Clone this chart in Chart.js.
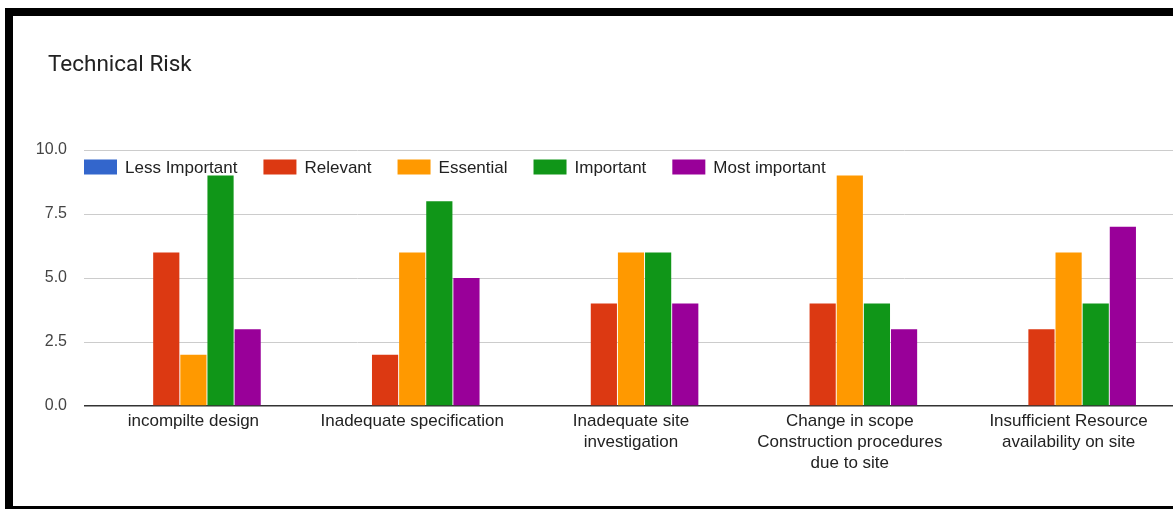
<!DOCTYPE html>
<html>
<head>
<meta charset="utf-8">
<script src="https://cdn.jsdelivr.net/npm/chart.js@4.4.1/dist/chart.umd.min.js"></script>
<style>
  html, body { margin: 0; padding: 0; background: #fff; width: 1173px; height: 510px; overflow: hidden; }
  #frame {
    position: absolute; left: 5px; top: 8px; width: 1300px; height: 490px;
    border-top: 8px solid #000; border-left: 8px solid #000; border-bottom: 3px solid #000;
    background: #fff;
  }
  #wrap { position: absolute; left: 0; top: 0; width: 1200px; height: 510px; z-index: 2; }
</style>
</head>
<body>
<div id="frame"></div>
<div id="wrap"><canvas id="chart" width="1200" height="510"></canvas></div>
<script>
// Survey responses per technical risk factor
const chartTitle = 'Technical Risk';
const categories = [
  'incompilte design',
  'Inadequate specification',
  ['Inadequate site', 'investigation'],
  ['Change in scope', 'Construction procedures', 'due to site'],
  ['Insufficient Resource', 'availability on site']
];
const seriesNames = ['Less Important', 'Relevant', 'Essential', 'Important', 'Most important'];
const lessImportant = [0, 0, 0, 0, 0];
const relevant      = [6, 2, 4, 4, 3];
const essential     = [2, 6, 6, 9, 6];
const important     = [9, 8, 6, 4, 4];
const mostImportant = [3, 5, 4, 3, 7];
const yTickValues   = [0, 2.5, 5, 7.5, 10];

const seriesColors = ['#3366cc', '#dc3912', '#ff9900', '#109618', '#990099'];
const seriesValues = [lessImportant, relevant, essential, important, mostImportant];

const LABEL_FONT = '"Liberation Sans", Arial, sans-serif';

// Title and in-plot legend drawn on top of the chart
const overlayPlugin = {
  id: 'overlay',
  afterDraw(chart) {
    const ctx = chart.ctx;
    const area = chart.chartArea;
    ctx.save();
    ctx.fillStyle = '#222';
    ctx.font = '22.5px Roboto, "Liberation Sans", sans-serif';
    ctx.textBaseline = 'alphabetic';
    ctx.textAlign = 'left';
    ctx.fillText(chartTitle, 48, 71);

    ctx.textBaseline = 'middle';
    ctx.font = '17px ' + LABEL_FONT;
    let x = area.left;
    const cy = area.top + 17;
    chart.data.datasets.forEach(ds => {
      ctx.fillStyle = ds.backgroundColor;
      ctx.fillRect(x, cy - 7.5, 33, 15);
      x += 33 + 8;
      ctx.fillStyle = '#222';
      ctx.fillText(ds.label, x, cy + 1);
      x += ctx.measureText(ds.label).width + 26;
    });
    ctx.restore();
  }
};

new Chart(document.getElementById('chart'), {
  type: 'bar',
  data: {
    labels: categories,
    datasets: seriesNames.map((name, i) => ({
      label: name,
      data: seriesValues[i],
      backgroundColor: seriesColors[i],
      borderWidth: 0,
      barPercentage: 0.965,
      categoryPercentage: 0.62
    }))
  },
  options: {
    responsive: false,
    animation: false,
    layout: { padding: { top: 150, right: 22, bottom: 0, left: 0 } },
    plugins: {
      legend: { display: false },
      title: { display: false },
      tooltip: { enabled: false }
    },
    scales: {
      x: {
        grid: { display: false, drawTicks: false },
        border: { display: false },
        ticks: {
          color: '#222',
          font: { family: LABEL_FONT, size: 17, lineHeight: 1.24 },
          padding: 5,
          maxRotation: 0,
          autoSkip: false
        },
        afterFit(scale) { scale.height = 104; }
      },
      y: {
        min: 0,
        max: 10,
        afterBuildTicks(scale) { scale.ticks = yTickValues.map(v => ({ value: v })); },
        grid: {
          drawTicks: false,
          color: ctx => (ctx.tick && ctx.tick.value === 0 ? '#333' : '#ccc'),
          lineWidth: ctx => (ctx.tick && ctx.tick.value === 0 ? 1.5 : 1)
        },
        border: { display: false },
        ticks: {
          color: '#444',
          font: { family: LABEL_FONT, size: 16 },
          padding: 17,
          callback: v => Number(v).toFixed(1)
        },
        afterFit(scale) { scale.width = 84; }
      }
    }
  },
  plugins: [overlayPlugin]
});
</script>
</body>
</html>
